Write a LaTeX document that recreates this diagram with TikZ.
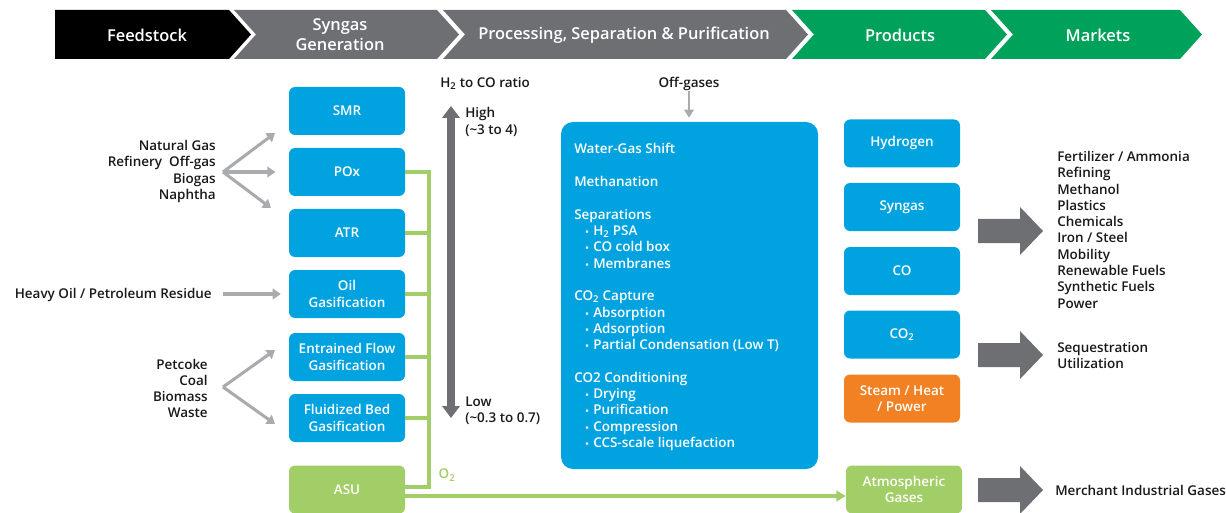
\documentclass[tikz,border=0pt]{standalone}
\usepackage{fontspec}
\setmainfont{Open Sans Semibold}
\usetikzlibrary{arrows.meta}
\definecolor{cblue}{RGB}{0,163,224}
\definecolor{cgreen}{RGB}{161,206,102}
\definecolor{hgreen}{RGB}{0,161,90}
\definecolor{hgrey}{RGB}{110,111,115}
\definecolor{corange}{RGB}{242,129,36}
\definecolor{lgrey}{RGB}{170,171,174}
\definecolor{txt}{RGB}{25,25,25}
\newcommand\subtwo{\textsubscript{2}}
\newcommand\bul{\makebox[6pt][l]{\fontsize{7}{7}\selectfont •}}
\newcommand\boxfont{\fontsize{10.1}{12.2}\selectfont}
\newcommand\headfont{\fontsize{12.3}{15}\selectfont}
\begin{document}
\begin{tikzpicture}[x=0.75pt,y=-0.75pt,
  procbox/.style={rectangle, rounded corners=4.5pt, fill=cblue, text=white,
    minimum width=87pt, minimum height=36pt, align=center, inner sep=1pt, font=\boxfont},
  asubox/.style={procbox, fill=cgreen},
  orbox/.style={procbox, fill=corange},
  headtxt/.style={text=white, font=\headfont, align=center, inner sep=0pt},
  lbl/.style={text=txt, font=\boxfont, inner sep=0pt},
  feedarrow/.style={draw=lgrey, line width=2.3pt, -{Triangle[length=6pt,width=8pt]}},
  gline/.style={draw=cgreen, line width=2.8pt},
  bigarrow/.style={fill=hgrey}
]
\useasboundingbox (0,0) rectangle (1226,513);

% header chevrons
\fill[black] (55,10) -- (229,10) -- (251,34.5) -- (229,59) -- (55,59) -- cycle;
\fill[hgrey] (234,10) -- (437,10) -- (459,34.5) -- (437,59) -- (234,59) -- (256,34.5) -- cycle;
\fill[hgrey] (443,10) -- (786,10) -- (808,34.5) -- (786,59) -- (443,59) -- (465,34.5) -- cycle;
\fill[hgreen] (792,10) -- (985,10) -- (1007,34.5) -- (985,59) -- (792,59) -- (814,34.5) -- cycle;
\fill[hgreen] (991,10) -- (1180,10) -- (1202,34.5) -- (1180,59) -- (991,59) -- (1013,34.5) -- cycle;
\node[headtxt] (h1) at (147,35) {Feedstock};
\node[headtxt] (h2) at (340,35) {Syngas\\Generation};
\node[headtxt] (h3) at (624,35) {Processing, Separation \& Purification};
\node[headtxt] (h4) at (900,35) {Products};
\node[headtxt] (h5) at (1098,35) {Markets};

% syngas generation boxes
\node[procbox] (smr) at (347,111) {SMR};
\node[procbox] (pox) at (347,172) {POx};
\node[procbox] (atr) at (347,233) {ATR};
\node[procbox] (oil) at (347,294) {Oil\\Gasification};
\node[procbox] (ent) at (347,357) {Entrained Flow\\Gasification};
\node[procbox] (flu) at (347,418) {Fluidized Bed\\Gasification};
\node[asubox] (asu) at (347,489.5) {ASU};

% feedstock labels
\node[lbl, align=right, anchor=east] (gasfeed) at (216,171.5) {Natural Gas\\Refinery\ \ Off-gas\\Biogas\\Naphtha};
\node[lbl, anchor=east] (oilfeed) at (212,295) {Heavy Oil / Petroleum Residue};
\node[lbl, align=right, anchor=east] (solidfeed) at (208,388.5) {Petcoke\\Coal\\Biomass\\Waste};

\coordinate (gsplit) at (223,172);
\coordinate (gtip1) at (275,133);
\coordinate (gtip3) at (271,208);
\draw[feedarrow] (gsplit) -- (gtip1);
\draw[feedarrow, shorten >=10pt] (gsplit) -- (pox.west);
\draw[feedarrow] (gsplit) -- (gtip3);
\coordinate (ostart) at (223,294);
\draw[feedarrow, shorten >=6pt] (ostart) -- (oil.west);
\coordinate (ssplit) at (223,387);
\coordinate (stip1) at (275,350);
\coordinate (stip2) at (275,424);
\draw[feedarrow] (ssplit) -- (stip1);
\draw[feedarrow] (ssplit) -- (stip2);

% oxygen bus
\coordinate (busbot) at (429,487);
\draw[gline] (asu.east |- busbot) -- (busbot) -- (pox.east -| busbot) -- (pox.east);
\draw[gline] (atr.east) -- (atr.east -| busbot);
\draw[gline] (oil.east) -- (oil.east -| busbot);
\draw[gline] (ent.east) -- (ent.east -| busbot);
\draw[gline] (flu.east) -- (flu.east -| busbot);
\node[text=cgreen, font=\boxfont, inner sep=0pt] (o2) at (447,475) {O\subtwo};

% ratio arrow
\node[lbl, anchor=west] (ratio) at (440,83.5) {H\subtwo\ to CO ratio};
\coordinate (rtop) at (451,106);
\coordinate (rbot) at (451,418);
\draw[draw=hgrey, line width=6pt, {Triangle[length=9pt,width=13pt]}-{Triangle[length=9pt,width=13pt]}] (rtop) -- (rbot);
\node[lbl, anchor=west, align=left] (high) at (465,122) {High\\(\textasciitilde3 to 4)};
\node[lbl, anchor=west, align=left] (low) at (465,410.5) {Low\\(\textasciitilde0.3 to 0.7)};

% processing box
\node[rectangle, rounded corners=9pt, fill=cblue, minimum width=192.75pt, minimum height=260.25pt, inner sep=0pt] (proc) at (689.5,295.5) {};
\node[lbl] (offg) at (689,83.5) {Off-gases};
\draw[draw=lgrey, line width=1.6pt, -{Triangle[length=6pt,width=7pt]}, shorten >=3pt] (offg.south) -- (proc.north -| offg.south);
\foreach \yy/\tx [count=\i] in {149/{Water-Gas Shift}, 181.6/{Methanation}, 214.2/{Separations},
   295.7/{CO\subtwo\ Capture}, 377/{CO2 Conditioning}}
  \node[lbl, text=white, anchor=base west] (ph\i) at (574,\yy+5) {\tx};
\foreach \yy/\tx [count=\i] in {230.5/{H\subtwo\ PSA}, 246.8/{CO cold box}, 263.1/{Membranes},
   312/{Absorption}, 328.3/{Adsorption}, 344.6/{Partial Condensation (Low T)},
   393.5/{Drying}, 409.8/{Purification}, 426.1/{Compression}, 442.4/{CCS-scale liquefaction}}
  \node[lbl, text=white, anchor=base west] (pb\i) at (585,\yy+5) {\bul\tx};

% products
\node[procbox] (hyd) at (902,143.5) {Hydrogen};
\node[procbox] (syn) at (902,207) {Syngas};
\node[procbox] (co) at (902,271) {CO};
\node[procbox] (co2) at (902,334.5) {CO\subtwo};
\node[orbox] (stm) at (902,398.5) {Steam / Heat\\/ Power};
\node[asubox] (atm) at (904,489.5) {Atmospheric\\Gases};

\coordinate (lowO) at (420,496);
\draw[gline, -{Triangle[length=7pt,width=8pt]}] (asu.east |- lowO) -- (atm.west |- lowO);

% big arrows
\foreach \yc in {231,355,490}
  \fill[bigarrow] (978,\yc-12) -- (1020,\yc-12) -- (1020,\yc-24) -- (1043,\yc) -- (1020,\yc+24) -- (1020,\yc+12) -- (978,\yc+12) -- cycle;

% markets
\foreach \yy/\tx [count=\i] in {156.5/{Fertilizer / Ammonia}, 172.8/{Refining}, 189.1/{Methanol}, 205.4/{Plastics},
   221.7/{Chemicals}, 238/{Iron / Steel}, 254.3/{Mobility}, 270.6/{Renewable Fuels}, 286.9/{Synthetic Fuels}, 303.2/{Power},
   347/{Sequestration}, 363.3/{Utilization}}
  \node[lbl, anchor=base west] (mk\i) at (1057,\yy+5) {\tx};
\node[lbl, anchor=base west] (merchant) at (1055,495.5) {Merchant Industrial Gases};
\end{tikzpicture}
\end{document}
